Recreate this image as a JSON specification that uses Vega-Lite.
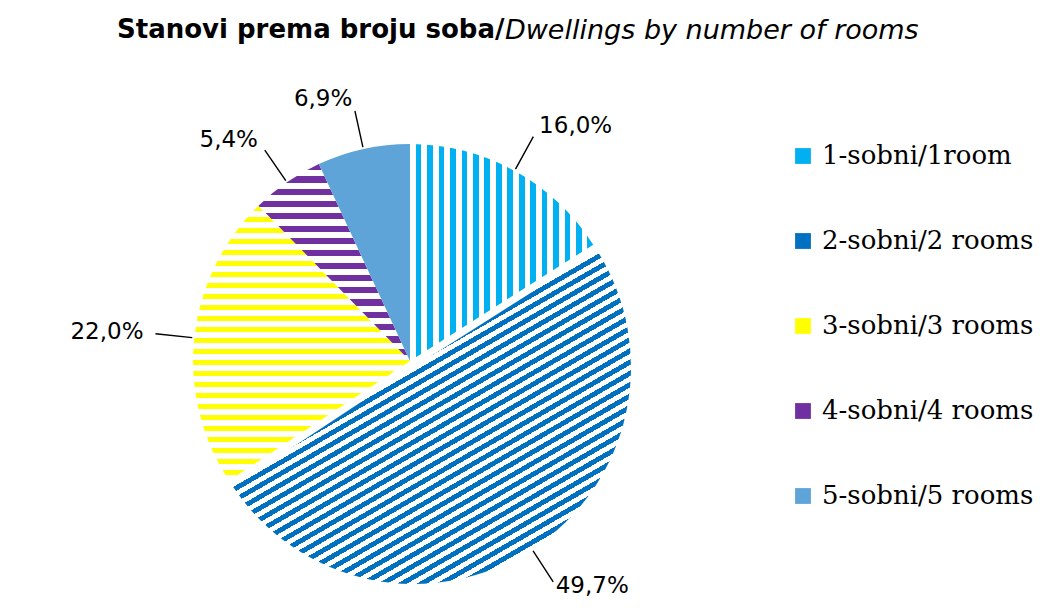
{
  "$schema": "https://vega.github.io/schema/vega-lite/v6.json",
  "background": "white",
  "padding": {"top": 17, "left": 0, "right": 0, "bottom": 0},
  "title": {"text": "Stanovi prema broju soba/", "anchor": "start", "frame": "group", "dx": 117, "font": "DejaVu Sans", "fontSize": 26, "fontWeight": "bold", "color": "#000000", "offset": -26},
  "params": [
    {"name": "g1", "value": {"gradient": "linear", "x1": 0, "y1": 0, "x2": 1, "y2": 0, "stops": [
      {"offset": 0, "color": "#ffffff"}, {"offset": 0.03125, "color": "#ffffff"}, {"offset": 0.03125, "color": "#00B0F0"}, {"offset": 0.0625, "color": "#00B0F0"},
      {"offset": 0.0625, "color": "#ffffff"}, {"offset": 0.09375, "color": "#ffffff"}, {"offset": 0.09375, "color": "#00B0F0"}, {"offset": 0.125, "color": "#00B0F0"},
      {"offset": 0.125, "color": "#ffffff"}, {"offset": 0.15625, "color": "#ffffff"}, {"offset": 0.15625, "color": "#00B0F0"}, {"offset": 0.1875, "color": "#00B0F0"},
      {"offset": 0.1875, "color": "#ffffff"}, {"offset": 0.21875, "color": "#ffffff"}, {"offset": 0.21875, "color": "#00B0F0"}, {"offset": 0.25, "color": "#00B0F0"},
      {"offset": 0.25, "color": "#ffffff"}, {"offset": 0.28125, "color": "#ffffff"}, {"offset": 0.28125, "color": "#00B0F0"}, {"offset": 0.3125, "color": "#00B0F0"},
      {"offset": 0.3125, "color": "#ffffff"}, {"offset": 0.34375, "color": "#ffffff"}, {"offset": 0.34375, "color": "#00B0F0"}, {"offset": 0.375, "color": "#00B0F0"},
      {"offset": 0.375, "color": "#ffffff"}, {"offset": 0.40625, "color": "#ffffff"}, {"offset": 0.40625, "color": "#00B0F0"}, {"offset": 0.4375, "color": "#00B0F0"},
      {"offset": 0.4375, "color": "#ffffff"}, {"offset": 0.46875, "color": "#ffffff"}, {"offset": 0.46875, "color": "#00B0F0"}, {"offset": 0.5, "color": "#00B0F0"},
      {"offset": 0.5, "color": "#ffffff"}, {"offset": 0.53125, "color": "#ffffff"}, {"offset": 0.53125, "color": "#00B0F0"}, {"offset": 0.5625, "color": "#00B0F0"},
      {"offset": 0.5625, "color": "#ffffff"}, {"offset": 0.59375, "color": "#ffffff"}, {"offset": 0.59375, "color": "#00B0F0"}, {"offset": 0.625, "color": "#00B0F0"},
      {"offset": 0.625, "color": "#ffffff"}, {"offset": 0.65625, "color": "#ffffff"}, {"offset": 0.65625, "color": "#00B0F0"}, {"offset": 0.6875, "color": "#00B0F0"},
      {"offset": 0.6875, "color": "#ffffff"}, {"offset": 0.71875, "color": "#ffffff"}, {"offset": 0.71875, "color": "#00B0F0"}, {"offset": 0.75, "color": "#00B0F0"},
      {"offset": 0.75, "color": "#ffffff"}, {"offset": 0.78125, "color": "#ffffff"}, {"offset": 0.78125, "color": "#00B0F0"}, {"offset": 0.8125, "color": "#00B0F0"},
      {"offset": 0.8125, "color": "#ffffff"}, {"offset": 0.84375, "color": "#ffffff"}, {"offset": 0.84375, "color": "#00B0F0"}, {"offset": 0.875, "color": "#00B0F0"},
      {"offset": 0.875, "color": "#ffffff"}, {"offset": 0.90625, "color": "#ffffff"}, {"offset": 0.90625, "color": "#00B0F0"}, {"offset": 0.9375, "color": "#00B0F0"},
      {"offset": 0.9375, "color": "#ffffff"}, {"offset": 0.96875, "color": "#ffffff"}, {"offset": 0.96875, "color": "#00B0F0"}, {"offset": 1, "color": "#00B0F0"}
    ]}},
    {"name": "g2", "value": {"gradient": "linear", "x1": 0, "y1": 0, "x2": 0.789, "y2": 1.145, "stops": [
      {"offset": 0, "color": "#0070C0"}, {"offset": 0.01, "color": "#0070C0"}, {"offset": 0.01, "color": "#ffffff"}, {"offset": 0.02, "color": "#ffffff"},
      {"offset": 0.02, "color": "#0070C0"}, {"offset": 0.03, "color": "#0070C0"}, {"offset": 0.03, "color": "#ffffff"}, {"offset": 0.04, "color": "#ffffff"},
      {"offset": 0.04, "color": "#0070C0"}, {"offset": 0.05, "color": "#0070C0"}, {"offset": 0.05, "color": "#ffffff"}, {"offset": 0.06, "color": "#ffffff"},
      {"offset": 0.06, "color": "#0070C0"}, {"offset": 0.07, "color": "#0070C0"}, {"offset": 0.07, "color": "#ffffff"}, {"offset": 0.08, "color": "#ffffff"},
      {"offset": 0.08, "color": "#0070C0"}, {"offset": 0.09, "color": "#0070C0"}, {"offset": 0.09, "color": "#ffffff"}, {"offset": 0.1, "color": "#ffffff"},
      {"offset": 0.1, "color": "#0070C0"}, {"offset": 0.11, "color": "#0070C0"}, {"offset": 0.11, "color": "#ffffff"}, {"offset": 0.12, "color": "#ffffff"},
      {"offset": 0.12, "color": "#0070C0"}, {"offset": 0.13, "color": "#0070C0"}, {"offset": 0.13, "color": "#ffffff"}, {"offset": 0.14, "color": "#ffffff"},
      {"offset": 0.14, "color": "#0070C0"}, {"offset": 0.15, "color": "#0070C0"}, {"offset": 0.15, "color": "#ffffff"}, {"offset": 0.16, "color": "#ffffff"},
      {"offset": 0.16, "color": "#0070C0"}, {"offset": 0.17, "color": "#0070C0"}, {"offset": 0.17, "color": "#ffffff"}, {"offset": 0.18, "color": "#ffffff"},
      {"offset": 0.18, "color": "#0070C0"}, {"offset": 0.19, "color": "#0070C0"}, {"offset": 0.19, "color": "#ffffff"}, {"offset": 0.2, "color": "#ffffff"},
      {"offset": 0.2, "color": "#0070C0"}, {"offset": 0.21, "color": "#0070C0"}, {"offset": 0.21, "color": "#ffffff"}, {"offset": 0.22, "color": "#ffffff"},
      {"offset": 0.22, "color": "#0070C0"}, {"offset": 0.23, "color": "#0070C0"}, {"offset": 0.23, "color": "#ffffff"}, {"offset": 0.24, "color": "#ffffff"},
      {"offset": 0.24, "color": "#0070C0"}, {"offset": 0.25, "color": "#0070C0"}, {"offset": 0.25, "color": "#ffffff"}, {"offset": 0.26, "color": "#ffffff"},
      {"offset": 0.26, "color": "#0070C0"}, {"offset": 0.27, "color": "#0070C0"}, {"offset": 0.27, "color": "#ffffff"}, {"offset": 0.28, "color": "#ffffff"},
      {"offset": 0.28, "color": "#0070C0"}, {"offset": 0.29, "color": "#0070C0"}, {"offset": 0.29, "color": "#ffffff"}, {"offset": 0.3, "color": "#ffffff"},
      {"offset": 0.3, "color": "#0070C0"}, {"offset": 0.31, "color": "#0070C0"}, {"offset": 0.31, "color": "#ffffff"}, {"offset": 0.32, "color": "#ffffff"},
      {"offset": 0.32, "color": "#0070C0"}, {"offset": 0.33, "color": "#0070C0"}, {"offset": 0.33, "color": "#ffffff"}, {"offset": 0.34, "color": "#ffffff"},
      {"offset": 0.34, "color": "#0070C0"}, {"offset": 0.35, "color": "#0070C0"}, {"offset": 0.35, "color": "#ffffff"}, {"offset": 0.36, "color": "#ffffff"},
      {"offset": 0.36, "color": "#0070C0"}, {"offset": 0.37, "color": "#0070C0"}, {"offset": 0.37, "color": "#ffffff"}, {"offset": 0.38, "color": "#ffffff"},
      {"offset": 0.38, "color": "#0070C0"}, {"offset": 0.39, "color": "#0070C0"}, {"offset": 0.39, "color": "#ffffff"}, {"offset": 0.4, "color": "#ffffff"},
      {"offset": 0.4, "color": "#0070C0"}, {"offset": 0.41, "color": "#0070C0"}, {"offset": 0.41, "color": "#ffffff"}, {"offset": 0.42, "color": "#ffffff"},
      {"offset": 0.42, "color": "#0070C0"}, {"offset": 0.43, "color": "#0070C0"}, {"offset": 0.43, "color": "#ffffff"}, {"offset": 0.44, "color": "#ffffff"},
      {"offset": 0.44, "color": "#0070C0"}, {"offset": 0.45, "color": "#0070C0"}, {"offset": 0.45, "color": "#ffffff"}, {"offset": 0.46, "color": "#ffffff"},
      {"offset": 0.46, "color": "#0070C0"}, {"offset": 0.47, "color": "#0070C0"}, {"offset": 0.47, "color": "#ffffff"}, {"offset": 0.48, "color": "#ffffff"},
      {"offset": 0.48, "color": "#0070C0"}, {"offset": 0.49, "color": "#0070C0"}, {"offset": 0.49, "color": "#ffffff"}, {"offset": 0.5, "color": "#ffffff"},
      {"offset": 0.5, "color": "#0070C0"}, {"offset": 0.51, "color": "#0070C0"}, {"offset": 0.51, "color": "#ffffff"}, {"offset": 0.52, "color": "#ffffff"},
      {"offset": 0.52, "color": "#0070C0"}, {"offset": 0.53, "color": "#0070C0"}, {"offset": 0.53, "color": "#ffffff"}, {"offset": 0.54, "color": "#ffffff"},
      {"offset": 0.54, "color": "#0070C0"}, {"offset": 0.55, "color": "#0070C0"}, {"offset": 0.55, "color": "#ffffff"}, {"offset": 0.56, "color": "#ffffff"},
      {"offset": 0.56, "color": "#0070C0"}, {"offset": 0.57, "color": "#0070C0"}, {"offset": 0.57, "color": "#ffffff"}, {"offset": 0.58, "color": "#ffffff"},
      {"offset": 0.58, "color": "#0070C0"}, {"offset": 0.59, "color": "#0070C0"}, {"offset": 0.59, "color": "#ffffff"}, {"offset": 0.6, "color": "#ffffff"},
      {"offset": 0.6, "color": "#0070C0"}, {"offset": 0.61, "color": "#0070C0"}, {"offset": 0.61, "color": "#ffffff"}, {"offset": 0.62, "color": "#ffffff"},
      {"offset": 0.62, "color": "#0070C0"}, {"offset": 0.63, "color": "#0070C0"}, {"offset": 0.63, "color": "#ffffff"}, {"offset": 0.64, "color": "#ffffff"},
      {"offset": 0.64, "color": "#0070C0"}, {"offset": 0.65, "color": "#0070C0"}, {"offset": 0.65, "color": "#ffffff"}, {"offset": 0.66, "color": "#ffffff"},
      {"offset": 0.66, "color": "#0070C0"}, {"offset": 0.67, "color": "#0070C0"}, {"offset": 0.67, "color": "#ffffff"}, {"offset": 0.68, "color": "#ffffff"},
      {"offset": 0.68, "color": "#0070C0"}, {"offset": 0.69, "color": "#0070C0"}, {"offset": 0.69, "color": "#ffffff"}, {"offset": 0.7, "color": "#ffffff"},
      {"offset": 0.7, "color": "#0070C0"}, {"offset": 0.71, "color": "#0070C0"}, {"offset": 0.71, "color": "#ffffff"}, {"offset": 0.72, "color": "#ffffff"},
      {"offset": 0.72, "color": "#0070C0"}, {"offset": 0.73, "color": "#0070C0"}, {"offset": 0.73, "color": "#ffffff"}, {"offset": 0.74, "color": "#ffffff"},
      {"offset": 0.74, "color": "#0070C0"}, {"offset": 0.75, "color": "#0070C0"}, {"offset": 0.75, "color": "#ffffff"}, {"offset": 0.76, "color": "#ffffff"},
      {"offset": 0.76, "color": "#0070C0"}, {"offset": 0.77, "color": "#0070C0"}, {"offset": 0.77, "color": "#ffffff"}, {"offset": 0.78, "color": "#ffffff"},
      {"offset": 0.78, "color": "#0070C0"}, {"offset": 0.79, "color": "#0070C0"}, {"offset": 0.79, "color": "#ffffff"}, {"offset": 0.8, "color": "#ffffff"},
      {"offset": 0.8, "color": "#0070C0"}, {"offset": 0.81, "color": "#0070C0"}, {"offset": 0.81, "color": "#ffffff"}, {"offset": 0.82, "color": "#ffffff"},
      {"offset": 0.82, "color": "#0070C0"}, {"offset": 0.83, "color": "#0070C0"}, {"offset": 0.83, "color": "#ffffff"}, {"offset": 0.84, "color": "#ffffff"},
      {"offset": 0.84, "color": "#0070C0"}, {"offset": 0.85, "color": "#0070C0"}, {"offset": 0.85, "color": "#ffffff"}, {"offset": 0.86, "color": "#ffffff"},
      {"offset": 0.86, "color": "#0070C0"}, {"offset": 0.87, "color": "#0070C0"}, {"offset": 0.87, "color": "#ffffff"}, {"offset": 0.88, "color": "#ffffff"},
      {"offset": 0.88, "color": "#0070C0"}, {"offset": 0.89, "color": "#0070C0"}, {"offset": 0.89, "color": "#ffffff"}, {"offset": 0.9, "color": "#ffffff"},
      {"offset": 0.9, "color": "#0070C0"}, {"offset": 0.91, "color": "#0070C0"}, {"offset": 0.91, "color": "#ffffff"}, {"offset": 0.92, "color": "#ffffff"},
      {"offset": 0.92, "color": "#0070C0"}, {"offset": 0.93, "color": "#0070C0"}, {"offset": 0.93, "color": "#ffffff"}, {"offset": 0.94, "color": "#ffffff"},
      {"offset": 0.94, "color": "#0070C0"}, {"offset": 0.95, "color": "#0070C0"}, {"offset": 0.95, "color": "#ffffff"}, {"offset": 0.96, "color": "#ffffff"},
      {"offset": 0.96, "color": "#0070C0"}, {"offset": 0.97, "color": "#0070C0"}, {"offset": 0.97, "color": "#ffffff"}, {"offset": 0.98, "color": "#ffffff"},
      {"offset": 0.98, "color": "#0070C0"}, {"offset": 0.99, "color": "#0070C0"}, {"offset": 0.99, "color": "#ffffff"}, {"offset": 1, "color": "#ffffff"}
    ]}},
    {"name": "g3", "value": {"gradient": "linear", "x1": 0, "y1": 0, "x2": 0, "y2": 1, "stops": [
      {"offset": 0, "color": "#FFFF00"}, {"offset": 0.02, "color": "#FFFF00"}, {"offset": 0.02, "color": "#ffffff"}, {"offset": 0.04, "color": "#ffffff"},
      {"offset": 0.04, "color": "#FFFF00"}, {"offset": 0.06, "color": "#FFFF00"}, {"offset": 0.06, "color": "#ffffff"}, {"offset": 0.08, "color": "#ffffff"},
      {"offset": 0.08, "color": "#FFFF00"}, {"offset": 0.1, "color": "#FFFF00"}, {"offset": 0.1, "color": "#ffffff"}, {"offset": 0.12, "color": "#ffffff"},
      {"offset": 0.12, "color": "#FFFF00"}, {"offset": 0.14, "color": "#FFFF00"}, {"offset": 0.14, "color": "#ffffff"}, {"offset": 0.16, "color": "#ffffff"},
      {"offset": 0.16, "color": "#FFFF00"}, {"offset": 0.18, "color": "#FFFF00"}, {"offset": 0.18, "color": "#ffffff"}, {"offset": 0.2, "color": "#ffffff"},
      {"offset": 0.2, "color": "#FFFF00"}, {"offset": 0.22, "color": "#FFFF00"}, {"offset": 0.22, "color": "#ffffff"}, {"offset": 0.24, "color": "#ffffff"},
      {"offset": 0.24, "color": "#FFFF00"}, {"offset": 0.26, "color": "#FFFF00"}, {"offset": 0.26, "color": "#ffffff"}, {"offset": 0.28, "color": "#ffffff"},
      {"offset": 0.28, "color": "#FFFF00"}, {"offset": 0.3, "color": "#FFFF00"}, {"offset": 0.3, "color": "#ffffff"}, {"offset": 0.32, "color": "#ffffff"},
      {"offset": 0.32, "color": "#FFFF00"}, {"offset": 0.34, "color": "#FFFF00"}, {"offset": 0.34, "color": "#ffffff"}, {"offset": 0.36, "color": "#ffffff"},
      {"offset": 0.36, "color": "#FFFF00"}, {"offset": 0.38, "color": "#FFFF00"}, {"offset": 0.38, "color": "#ffffff"}, {"offset": 0.4, "color": "#ffffff"},
      {"offset": 0.4, "color": "#FFFF00"}, {"offset": 0.42, "color": "#FFFF00"}, {"offset": 0.42, "color": "#ffffff"}, {"offset": 0.44, "color": "#ffffff"},
      {"offset": 0.44, "color": "#FFFF00"}, {"offset": 0.46, "color": "#FFFF00"}, {"offset": 0.46, "color": "#ffffff"}, {"offset": 0.48, "color": "#ffffff"},
      {"offset": 0.48, "color": "#FFFF00"}, {"offset": 0.5, "color": "#FFFF00"}, {"offset": 0.5, "color": "#ffffff"}, {"offset": 0.52, "color": "#ffffff"},
      {"offset": 0.52, "color": "#FFFF00"}, {"offset": 0.54, "color": "#FFFF00"}, {"offset": 0.54, "color": "#ffffff"}, {"offset": 0.56, "color": "#ffffff"},
      {"offset": 0.56, "color": "#FFFF00"}, {"offset": 0.58, "color": "#FFFF00"}, {"offset": 0.58, "color": "#ffffff"}, {"offset": 0.6, "color": "#ffffff"},
      {"offset": 0.6, "color": "#FFFF00"}, {"offset": 0.62, "color": "#FFFF00"}, {"offset": 0.62, "color": "#ffffff"}, {"offset": 0.64, "color": "#ffffff"},
      {"offset": 0.64, "color": "#FFFF00"}, {"offset": 0.66, "color": "#FFFF00"}, {"offset": 0.66, "color": "#ffffff"}, {"offset": 0.68, "color": "#ffffff"},
      {"offset": 0.68, "color": "#FFFF00"}, {"offset": 0.7, "color": "#FFFF00"}, {"offset": 0.7, "color": "#ffffff"}, {"offset": 0.72, "color": "#ffffff"},
      {"offset": 0.72, "color": "#FFFF00"}, {"offset": 0.74, "color": "#FFFF00"}, {"offset": 0.74, "color": "#ffffff"}, {"offset": 0.76, "color": "#ffffff"},
      {"offset": 0.76, "color": "#FFFF00"}, {"offset": 0.78, "color": "#FFFF00"}, {"offset": 0.78, "color": "#ffffff"}, {"offset": 0.8, "color": "#ffffff"},
      {"offset": 0.8, "color": "#FFFF00"}, {"offset": 0.82, "color": "#FFFF00"}, {"offset": 0.82, "color": "#ffffff"}, {"offset": 0.84, "color": "#ffffff"},
      {"offset": 0.84, "color": "#FFFF00"}, {"offset": 0.86, "color": "#FFFF00"}, {"offset": 0.86, "color": "#ffffff"}, {"offset": 0.88, "color": "#ffffff"},
      {"offset": 0.88, "color": "#FFFF00"}, {"offset": 0.9, "color": "#FFFF00"}, {"offset": 0.9, "color": "#ffffff"}, {"offset": 0.92, "color": "#ffffff"},
      {"offset": 0.92, "color": "#FFFF00"}, {"offset": 0.94, "color": "#FFFF00"}, {"offset": 0.94, "color": "#ffffff"}, {"offset": 0.96, "color": "#ffffff"},
      {"offset": 0.96, "color": "#FFFF00"}, {"offset": 0.98, "color": "#FFFF00"}, {"offset": 0.98, "color": "#ffffff"}, {"offset": 1, "color": "#ffffff"}
    ]}},
    {"name": "g4", "value": {"gradient": "linear", "x1": 0, "y1": 0, "x2": 0, "y2": 1, "stops": [
      {"offset": 0, "color": "#7030A0"}, {"offset": 0.03125, "color": "#7030A0"}, {"offset": 0.03125, "color": "#ffffff"}, {"offset": 0.0625, "color": "#ffffff"},
      {"offset": 0.0625, "color": "#7030A0"}, {"offset": 0.09375, "color": "#7030A0"}, {"offset": 0.09375, "color": "#ffffff"}, {"offset": 0.125, "color": "#ffffff"},
      {"offset": 0.125, "color": "#7030A0"}, {"offset": 0.15625, "color": "#7030A0"}, {"offset": 0.15625, "color": "#ffffff"}, {"offset": 0.1875, "color": "#ffffff"},
      {"offset": 0.1875, "color": "#7030A0"}, {"offset": 0.21875, "color": "#7030A0"}, {"offset": 0.21875, "color": "#ffffff"}, {"offset": 0.25, "color": "#ffffff"},
      {"offset": 0.25, "color": "#7030A0"}, {"offset": 0.28125, "color": "#7030A0"}, {"offset": 0.28125, "color": "#ffffff"}, {"offset": 0.3125, "color": "#ffffff"},
      {"offset": 0.3125, "color": "#7030A0"}, {"offset": 0.34375, "color": "#7030A0"}, {"offset": 0.34375, "color": "#ffffff"}, {"offset": 0.375, "color": "#ffffff"},
      {"offset": 0.375, "color": "#7030A0"}, {"offset": 0.40625, "color": "#7030A0"}, {"offset": 0.40625, "color": "#ffffff"}, {"offset": 0.4375, "color": "#ffffff"},
      {"offset": 0.4375, "color": "#7030A0"}, {"offset": 0.46875, "color": "#7030A0"}, {"offset": 0.46875, "color": "#ffffff"}, {"offset": 0.5, "color": "#ffffff"},
      {"offset": 0.5, "color": "#7030A0"}, {"offset": 0.53125, "color": "#7030A0"}, {"offset": 0.53125, "color": "#ffffff"}, {"offset": 0.5625, "color": "#ffffff"},
      {"offset": 0.5625, "color": "#7030A0"}, {"offset": 0.59375, "color": "#7030A0"}, {"offset": 0.59375, "color": "#ffffff"}, {"offset": 0.625, "color": "#ffffff"},
      {"offset": 0.625, "color": "#7030A0"}, {"offset": 0.65625, "color": "#7030A0"}, {"offset": 0.65625, "color": "#ffffff"}, {"offset": 0.6875, "color": "#ffffff"},
      {"offset": 0.6875, "color": "#7030A0"}, {"offset": 0.71875, "color": "#7030A0"}, {"offset": 0.71875, "color": "#ffffff"}, {"offset": 0.75, "color": "#ffffff"},
      {"offset": 0.75, "color": "#7030A0"}, {"offset": 0.78125, "color": "#7030A0"}, {"offset": 0.78125, "color": "#ffffff"}, {"offset": 0.8125, "color": "#ffffff"},
      {"offset": 0.8125, "color": "#7030A0"}, {"offset": 0.84375, "color": "#7030A0"}, {"offset": 0.84375, "color": "#ffffff"}, {"offset": 0.875, "color": "#ffffff"},
      {"offset": 0.875, "color": "#7030A0"}, {"offset": 0.90625, "color": "#7030A0"}, {"offset": 0.90625, "color": "#ffffff"}, {"offset": 0.9375, "color": "#ffffff"},
      {"offset": 0.9375, "color": "#7030A0"}, {"offset": 0.96875, "color": "#7030A0"}, {"offset": 0.96875, "color": "#ffffff"}, {"offset": 1, "color": "#ffffff"}
    ]}}
  ],
  "data": {"values": [
    {"cat": "1-sobni/1room", "v": 16.0, "label": "16,0%"},
    {"cat": "2-sobni/2 rooms", "v": 49.7, "label": "49,7%"},
    {"cat": "3-sobni/3 rooms", "v": 22.0, "label": "22,0%"},
    {"cat": "4-sobni/4 rooms", "v": 5.4, "label": "5,4%"},
    {"cat": "5-sobni/5 rooms", "v": 6.9, "label": "6,9%"}
  ]},
  "vconcat": [{
    "width": 820,
    "height": 500,
    "title": {"text": "Dwellings by number of rooms", "anchor": "start", "frame": "group", "dx": 505, "font": "DejaVu Sans", "fontSize": 27, "fontStyle": "italic", "fontWeight": "normal", "color": "#000000", "offset": 43},
    "layer": [
      {
        "mark": {"type": "arc", "radius": 217, "opacity": 0},
        "encoding": {
          "theta": {"field": "v", "type": "quantitative", "stack": true},
          "color": {
            "field": "cat", "type": "nominal",
            "scale": {
              "domain": ["1-sobni/1room", "2-sobni/2 rooms", "3-sobni/3 rooms", "4-sobni/4 rooms", "5-sobni/5 rooms"],
              "range": ["#00B0F0", "#0070C0", "#FFFF00", "#7030A0", "#5ea4d8"]
            },
            "legend": {
              "orient": "none", "legendX": 790, "legendY": 32, "title": null,
              "symbolType": "square", "symbolSize": 250, "symbolStrokeWidth": 0,
              "labelFont": "DejaVu Serif", "labelFontSize": 26, "labelColor": "#000000",
              "labelOffset": 6, "rowPadding": 59, "padding": 0, "labelLimit": 400,
              "symbolOpacity": 1
            }
          }
        }
      },
      {
        "mark": {"type": "arc", "radius": 217, "strokeWidth": 0,
          "fill": {"expr": "datum.cat === '1-sobni/1room' ? g1 : datum.cat === '2-sobni/2 rooms' ? g2 : datum.cat === '3-sobni/3 rooms' ? g3 : datum.cat === '4-sobni/4 rooms' ? g4 : '#5ea4d8'"},
          "xOffset": {"expr": "datum.cat === '2-sobni/2 rooms' ? 4 : 0"},
          "yOffset": {"expr": "datum.cat === '2-sobni/2 rooms' ? 6 : 0"}},
        "encoding": {
          "theta": {"field": "v", "type": "quantitative", "stack": true},
          "order": {"field": "cat", "type": "ordinal"}
        }
      },
      {
        "mark": {"type": "arc", "radius": 256, "radius2": 219, "padAngle": 3.1416, "fill": "transparent", "stroke": "#000000", "strokeWidth": 1.4,
          "xOffset": {"expr": "datum.cat === '2-sobni/2 rooms' ? 4 : 0"},
          "yOffset": {"expr": "datum.cat === '2-sobni/2 rooms' ? 6 : 0"}},
        "encoding": {
          "theta": {"field": "v", "type": "quantitative", "stack": true},
          "order": {"field": "cat", "type": "ordinal"}
        }
      },
      {
        "mark": {"type": "text", "radius": 268, "font": "DejaVu Sans", "fontSize": 23, "color": "#000000",
          "align": {"expr": "(datum.v_start + datum.v_end) / 2 > 50 ? 'right' : 'left'"}},
        "encoding": {
          "theta": {"field": "v", "type": "quantitative", "stack": true},
          "order": {"field": "cat", "type": "ordinal"},
          "text": {"field": "label", "type": "nominal"}
        }
      }
    ]
  }],
  "config": {"view": {"stroke": null}}
}
